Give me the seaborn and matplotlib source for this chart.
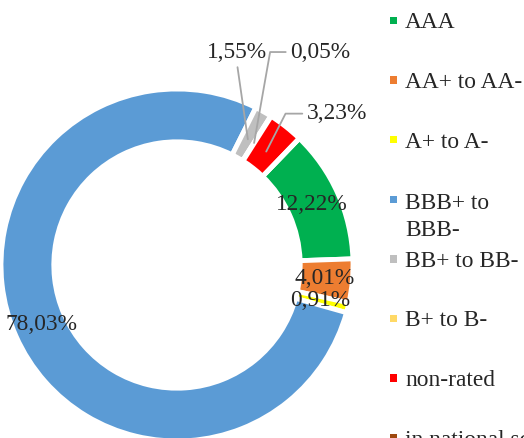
import numpy as np
import seaborn as sns
import matplotlib
matplotlib.use("Agg")
import matplotlib.pyplot as plt
from matplotlib.patches import Rectangle

# rating structure, shares in %
categories = ["AAA", "AA+ to AA-", "A+ to A-", "BBB+ to\nBBB-", "BB+ to BB-",
              "B+ to B-", "non-rated", "in national scale"]
shares = [12.22, 4.01, 0.91, 78.03, 1.55, 0.05, 3.23, 0.0]
colors = ["#00b050", "#ed7d31", "#ffff00", "#5b9bd5", "#bfbfbf",
          "#ffd966", "#ff0000", "#9e480e"]

sns.set_style("white")
plt.rcParams["font.family"] = ["Liberation Serif", "DejaVu Serif"]
fs = 16.8

W, H = 524, 438
fig = plt.figure(figsize=(W / 100, H / 100), dpi=100)
ax = fig.add_axes([1 / W, -3 / H, 352 / W, 352 / H])

palette = sns.color_palette(colors)
wedges, _ = ax.pie(shares, colors=palette, startangle=46, counterclock=False,
                   wedgeprops=dict(width=0.3, edgecolor="white", linewidth=3.5))
ax.set_xlim(-1, 1)
ax.set_ylim(-1, 1)

def fmt(v):
    return f"{v:.2f}%".replace(".", ",")

# labels in the ring
for i in range(4):
    w = wedges[i]
    mid = np.deg2rad((w.theta1 + w.theta2) / 2)
    ax.text(0.84 * np.cos(mid), 0.84 * np.sin(mid), fmt(shares[i]),
            ha="center", va="center", fontsize=fs)

# small slices get labels outside with leader lines
outside = {
    4: dict(xytext=(0.34, 1.21), relpos=(0.5, 0.0), conn="arc3"),
    5: dict(xytext=(0.815, 1.21), relpos=(0.0, 0.5), conn="angle,angleA=0,angleB=80,rad=0"),
    6: dict(xytext=(0.91, 0.86), relpos=(0.0, 0.5), conn="angle,angleA=0,angleB=63,rad=0"),
}
for i, o in outside.items():
    w = wedges[i]
    mid = np.deg2rad((w.theta1 + w.theta2) / 2)
    ax.annotate(fmt(shares[i]), xy=(0.82 * np.cos(mid), 0.82 * np.sin(mid)),
                xytext=o["xytext"], ha="center", va="center", fontsize=fs,
                arrowprops=dict(arrowstyle="-", color="#a6a6a6", lw=1.3,
                                relpos=o["relpos"], connectionstyle=o["conn"],
                                shrinkA=1, shrinkB=0))

# legend on the right (square sits next to the first text line)
leg_top, leg_step, sq, line_px = 20.5, 59.6, 7.5, 29
for i, (cat, col) in enumerate(zip(categories, palette)):
    yc = leg_top + i * leg_step
    extra = cat.count("\n")
    fig.add_artist(Rectangle(((393.5 - sq / 2) / W, 1 - (yc + sq / 2) / H), sq / W, sq / H,
                             transform=fig.transFigure, facecolor=col, edgecolor="none"))
    fig.text(405 / W, 1 - (yc + 8 + extra * line_px) / H, cat, ha="left", va="baseline",
             fontsize=fs, linespacing=1.38)

fig.savefig("out.png", dpi=100)
